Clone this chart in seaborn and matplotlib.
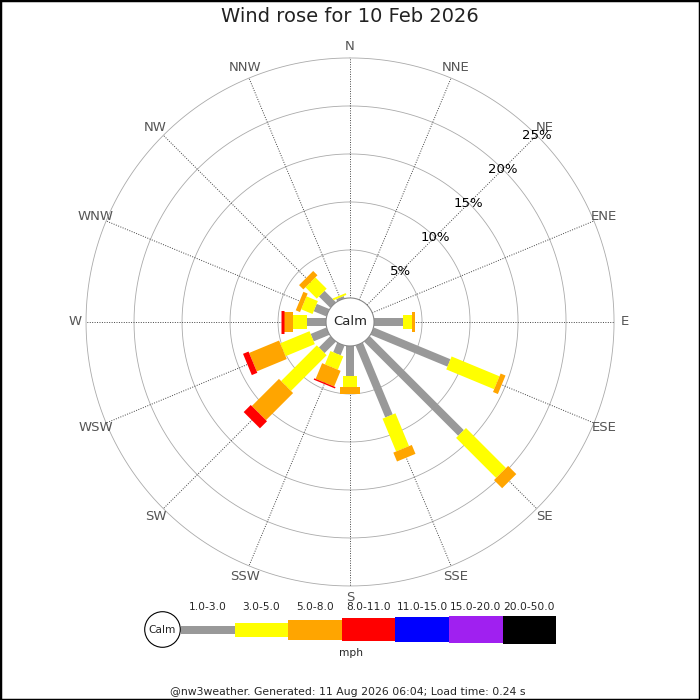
import numpy as np
import pandas as pd
import matplotlib
matplotlib.use("Agg")
import matplotlib.pyplot as plt
from matplotlib.patches import Rectangle, Circle
import seaborn as sns

sns.set_theme(style="white")
plt.rcParams["font.family"] = ["DejaVu Sans"]

# ---- data (percent of time, per direction and speed bin) ----
directions = ["N", "NNE", "NE", "ENE", "E", "ESE", "SE", "SSE",
              "S", "SSW", "SW", "WSW", "W", "WNW", "NW", "NNW"]
speed_bins = ["1.0-3.0", "3.0-5.0", "5.0-8.0", "8.0-11.0",
              "11.0-15.0", "15.0-20.0", "20.0-50.0"]
bin_colors = ["#999999", "#ffff00", "#ffa500", "#ff0000",
              "#0000ff", "#a020f0", "#000000"]
bin_width_px = [8, 14, 20, 23, 25, 27, 28]

pct_1_3   = [0, 0, 0, 0, 3.0, 8.65, 13.85, 8.1, 3.1, 1.08, 1.67, 1.77, 1.98, 1.43, 1.67, 0.25]
pct_3_5   = [0, 0, 0, 0, 1.0, 5.4, 5.9, 3.7, 1.15, 1.5, 5.26, 3.3, 1.46, 1.28, 1.67, 0.2]
pct_5_8   = [0, 0, 0, 0, 0.25, 0.55, 1.2, 1.0, 0.73, 1.77, 4.0, 3.38, 0.94, 0.48, 0.63, 0]
pct_8_11  = [0, 0, 0, 0, 0, 0, 0, 0, 0, 0.15, 1.04, 0.62, 0.31, 0, 0, 0]
pct_11_15 = [0] * 16
pct_15_20 = [0] * 16
pct_20_50 = [0] * 16

ring_pcts = [5, 10, 15, 20, 25]
title = "Wind rose for 10 Feb 2026"
footer = "@nw3weather. Generated: 11 Aug 2026 06:04; Load time: 0.24 s"

table = pd.DataFrame(
    [pct_1_3, pct_3_5, pct_5_8, pct_8_11, pct_11_15, pct_15_20, pct_20_50],
    index=speed_bins, columns=directions)

R0 = 2.5          # calm circle radius, in % units
RMAX = 27.5
PX = 0.72         # points per pixel at dpi 100

fig = plt.figure(figsize=(7, 7), dpi=100)
ax = fig.add_axes([0.1229, 0.1629, 0.7543, 0.7543], projection="polar")
ax.set_theta_zero_location("N")
ax.set_theta_direction(-1)
ax.set_ylim(0, RMAX)
ax.set_axis_off()

full = np.linspace(0, 2 * np.pi, 721)
for p in ring_pcts:
    ax.plot(full, np.full_like(full, R0 + p), color="#aaaaaa", lw=0.6,
            zorder=1, clip_on=False)

thetas = np.deg2rad(np.arange(16) * 22.5)
for th, name in zip(thetas, directions):
    ax.plot([th, th], [R0, RMAX], color="#444444", lw=0.7,
            linestyle=(0, (1, 1.5)), zorder=1)
    ax.text(th, 28.65, name, ha="center", va="center", fontsize=9.5,
            color="#555555")

# stacked bars
for j, d in enumerate(directions):
    base = R0
    for k, b in enumerate(speed_bins):
        v = table.loc[b, d]
        if v <= 0:
            continue
        ax.plot([thetas[j], thetas[j]], [base, base + v], color=bin_colors[k],
                lw=bin_width_px[k] * PX, solid_capstyle="butt", zorder=2 + k)
        base += v

# calm circle
ax.fill(full, np.full_like(full, R0), facecolor="white", edgecolor="#888888",
        lw=0.8, zorder=20)
ax.text(0, 0, "Calm", ha="center", va="center", fontsize=9.5, zorder=21)

for p in ring_pcts:
    ax.text(np.deg2rad(45), R0 + p, f"{p}%", ha="center", va="center",
            fontsize=9.5, color="black", zorder=22)

fig.text(0.5, 1 - 17 / 700, title, ha="center", va="center", fontsize=14,
         color="#222222")

# legend in pixel coordinates
lg = fig.add_axes([0, 0, 1, 1], facecolor="none")
lg.set_xlim(0, 700)
lg.set_ylim(700, 0)
lg.set_axis_off()
seg_left = 181
seg_w = 53.6
for k, b in enumerate(speed_bins):
    x0 = seg_left + k * seg_w
    lg.barh(629.5, seg_w, left=x0, height=bin_width_px[k],
            color=bin_colors[k], linewidth=0)
    lg.text(x0 + seg_w / 2, 607, b, ha="center", va="center", fontsize=7.7)
lg.add_patch(Circle((162.5, 629.5), 17.8, facecolor="white",
                    edgecolor="black", lw=0.8))
lg.text(162.5, 630, "Calm", ha="center", va="center", fontsize=7.7)
lg.text(350.5, 653.5, "mph", ha="center", va="center", fontsize=7.7)
lg.text(348, 692, footer, ha="center", va="center", fontsize=7.8)

fig.add_artist(Rectangle((0, 0), 1, 1, transform=fig.transFigure,
                         fill=False, edgecolor="black", lw=2.5))

fig.savefig("out.png", dpi=100)
